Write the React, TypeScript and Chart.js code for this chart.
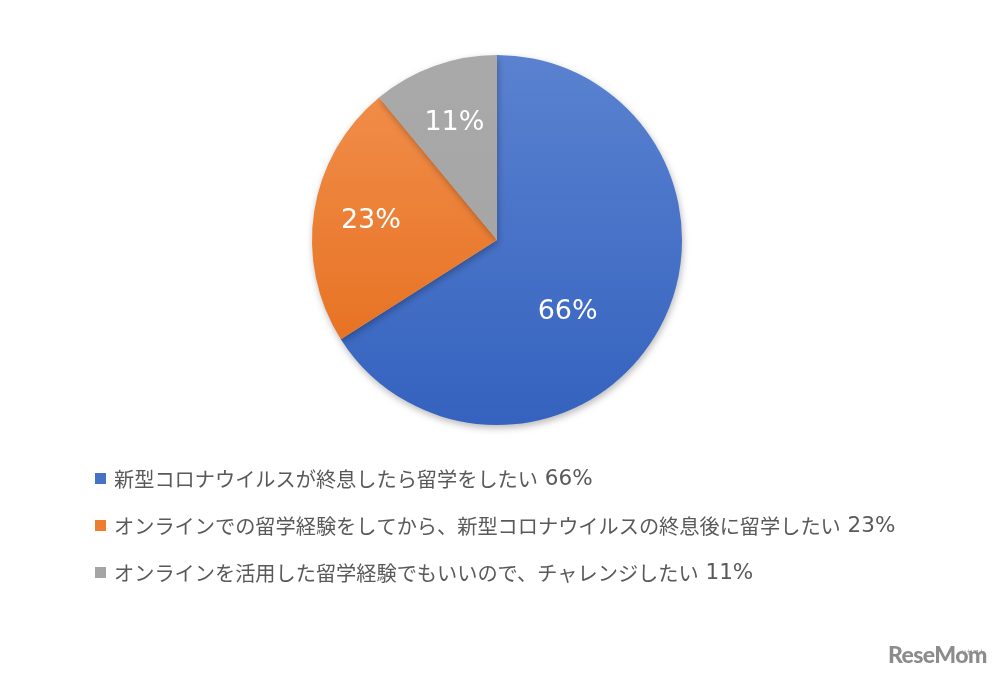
import React, { useEffect, useRef } from "react";
import { Chart, registerables } from "chart.js";

Chart.register(...registerables);

const categories = [
  "新型コロナウイルスが終息したら留学をしたい",
  "オンラインでの留学経験をしてから、新型コロナウイルスの終息後に留学したい",
  "オンラインを活用した留学経験でもいいので、チャレンジしたい",
];
const shares = [66, 23, 11];
const gradTop = ["#5a82d0", "#f2914f", "#a9a9a9"];
const gradBottom = ["#3462be", "#e46a17", "#a3a3a3"];
const legendColors = ["#4472c4", "#ed7d31", "#a5a5a5"];
// label placement: fraction of radius and optional angle override (degrees clockwise from top)
const labelRadius = [0.54, 0.69, 0.68];
const labelAngle: (number | null)[] = [135, null, null];

const FONT = '"Noto Sans CJK JP", "Noto Sans", sans-serif';
const NUMFONT = '"DejaVu Sans", Verdana, sans-serif';

const pieLabels = {
  id: "pieLabels",
  afterDatasetsDraw(chart: any) {
    const ctx = chart.ctx;
    const meta = chart.getDatasetMeta(0);
    ctx.save();
    ctx.fillStyle = "#ffffff";
    ctx.font = `27px ${NUMFONT}`;
    ctx.textAlign = "center";
    ctx.textBaseline = "middle";
    meta.data.forEach((arc: any, i: number) => {
      const { x, y, startAngle, endAngle, outerRadius } = arc.getProps(
        ["x", "y", "startAngle", "endAngle", "outerRadius"],
        true
      );
      let a = (startAngle + endAngle) / 2;
      if (labelAngle[i] !== null) a = ((labelAngle[i] as number) - 90) * Math.PI / 180;
      const r = outerRadius * labelRadius[i];
      ctx.fillText(`${chart.data.datasets[0].data[i]}%`, x + Math.cos(a) * r, y + Math.sin(a) * r + 1);
    });
    ctx.restore();
  },
};

const shadow = {
  id: "shadow",
  beforeDatasetsDraw(chart: any) {
    const ctx = chart.ctx;
    ctx.save();
    ctx.shadowColor = "rgba(0,0,0,0.28)";
    ctx.shadowBlur = 7;
    ctx.shadowOffsetY = 3;
    ctx.shadowOffsetX = 1;
  },
  afterDatasetsDraw(chart: any) {
    chart.ctx.restore();
  },
};

const customLegend = {
  id: "customLegend",
  afterDraw(chart: any) {
    const ctx = chart.ctx;
    const labels = chart.data.labels as string[];
    const data = chart.data.datasets[0].data as number[];
    ctx.save();
    ctx.textBaseline = "middle";
    ctx.textAlign = "left";
    const x0 = 95;
    const y0 = 478;
    const gap = 47;
    labels.forEach((l, i) => {
      const y = y0 + i * gap;
      ctx.fillStyle = legendColors[i];
      ctx.fillRect(x0, y - 5, 11, 11);
      ctx.fillStyle = "#595959";
      ctx.font = `20.2px ${FONT}`;
      const tx = x0 + 19;
      ctx.fillText(l, tx, y + 1);
      const w = ctx.measureText(l).width;
      ctx.font = `21.5px ${NUMFONT}`;
      ctx.fillText(` ${data[i]}%`, tx + w, y + 1);
    });
    ctx.restore();
  },
};

export default function App() {
  const ref = useRef<HTMLCanvasElement>(null);
  useEffect(() => {
    document.body.style.margin = "0";
    const canvas = ref.current!;
    const chart = new Chart(canvas, {
      type: "pie",
      data: {
        labels: categories,
        datasets: [
          {
            data: shares,
            borderWidth: 0,
            backgroundColor: (c: any) => {
              const area = c.chart.chartArea;
              const i = c.dataIndex;
              if (!area) return gradTop[i];
              const g = c.chart.ctx.createLinearGradient(0, area.top, 0, area.bottom);
              g.addColorStop(0, gradTop[i]);
              g.addColorStop(1, gradBottom[i]);
              return g;
            },
          },
        ],
      },
      options: {
        animation: false,
        responsive: false,
        maintainAspectRatio: false,
        layout: { padding: { top: 55, bottom: 253, left: 312, right: 318 } },
        plugins: {
          legend: { display: false },
          tooltip: { enabled: false },
        },
      },
      plugins: [shadow, pieLabels, customLegend],
    });
    return () => chart.destroy();
  }, []);
  return (
    <div style={{ position: "fixed", left: 0, top: 0, width: 1000, height: 678, background: "#fff" }}>
      <canvas ref={ref} width={1000} height={678} style={{ width: 1000, height: 678, display: "block" }} />
      <div
        style={{
          position: "absolute",
          left: 888,
          top: 640,
          fontFamily: "Lato, sans-serif",
          fontWeight: 900,
          fontSize: 23,
          lineHeight: "28px",
          color: "#8c8c8c",
          letterSpacing: -0.6,
        }}
      >
        ReseMom
        <span style={{ position: "absolute", right: 2, top: -2, fontSize: 6, fontWeight: 400, fontFamily: FONT, letterSpacing: 0 }}>
          リセマム
        </span>
      </div>
    </div>
  );
}
